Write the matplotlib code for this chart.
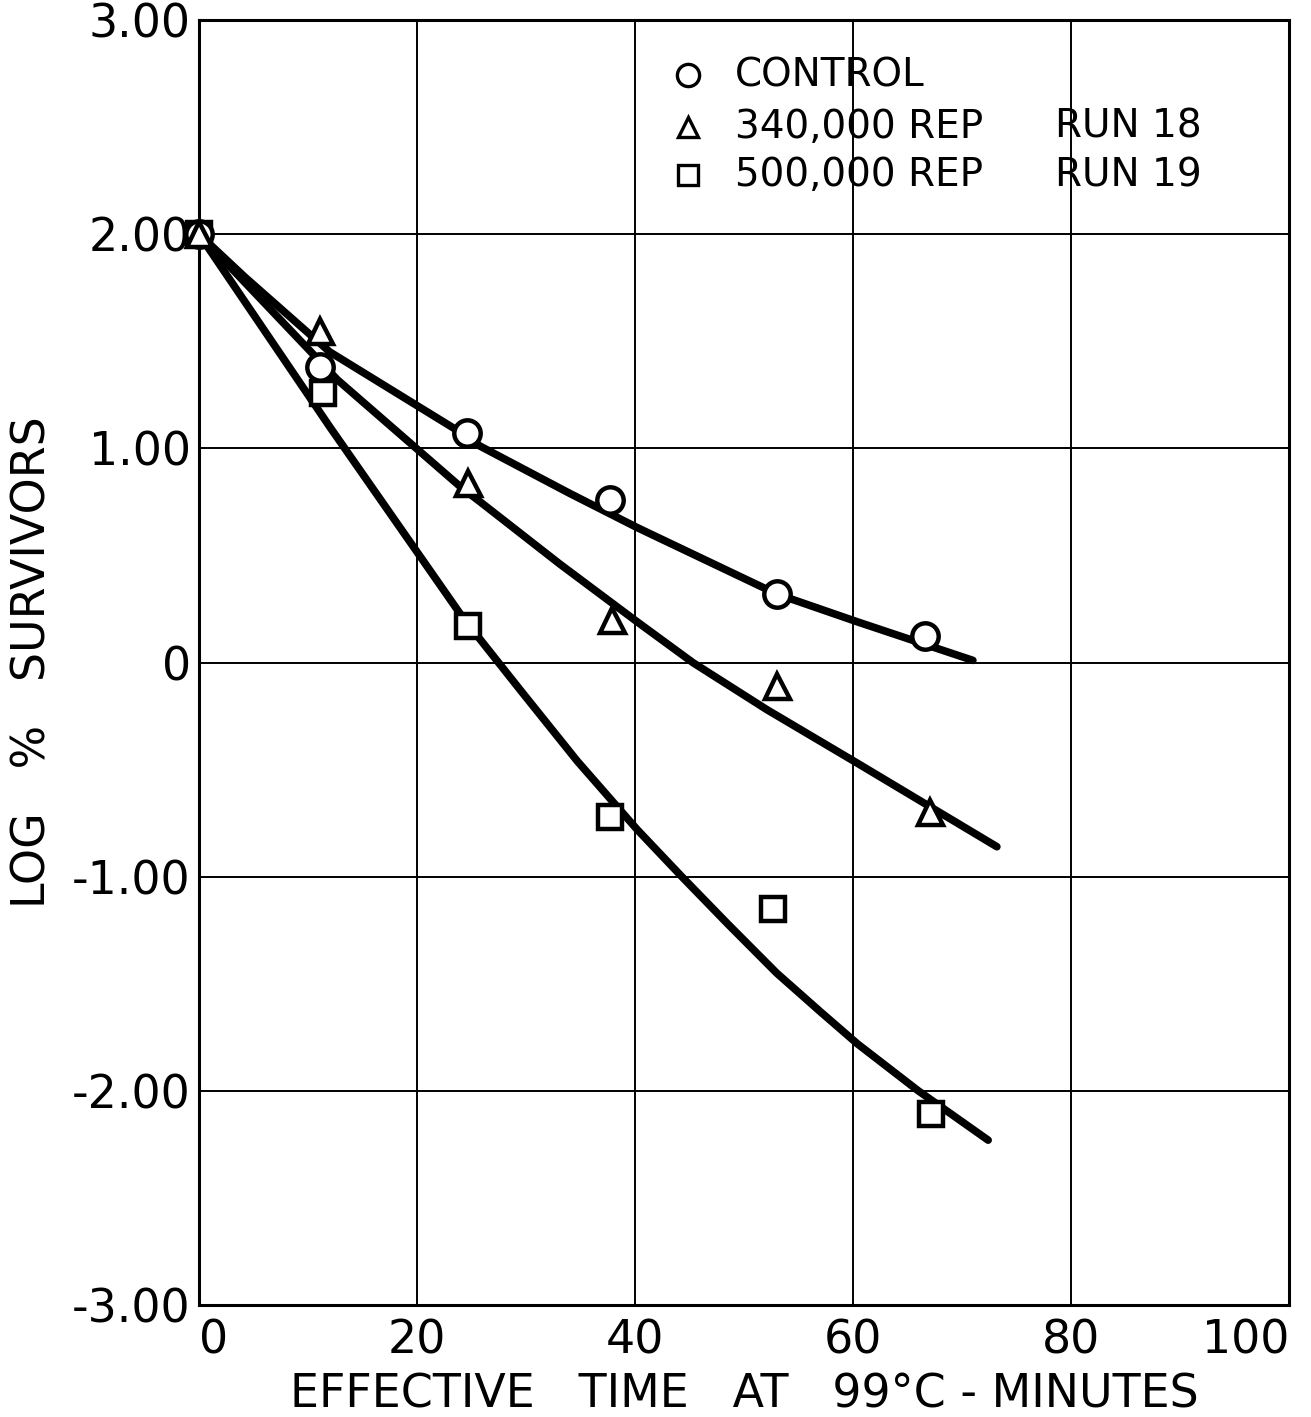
import matplotlib
matplotlib.use("Agg")
import matplotlib.pyplot as plt

# ---- data ----
# measured points
control_t = [0, 11.1, 24.6, 37.7, 53.0, 66.6]
control_y = [2.00, 1.38, 1.07, 0.76, 0.32, 0.125]

rep340_t = [0, 11.1, 24.7, 37.9, 53.0, 67.1]
rep340_y = [2.00, 1.55, 0.84, 0.20, -0.11, -0.70]

rep500_t = [0, 11.4, 24.7, 37.7, 52.7, 67.2]
rep500_y = [2.00, 1.26, 0.17, -0.72, -1.15, -2.11]

# hand-drawn fitted curves
control_curve_t = [0, 4.2, 12.0, 23.5, 25.8, 34.0, 40.2, 53.0, 60.4, 71.0]
control_curve_y = [2.00, 1.80, 1.45, 1.09, 1.01, 0.79, 0.63, 0.32, 0.19, 0.01]

rep340_curve_t = [0, 12.7, 24.0, 25.8, 33.1, 40.2, 45.3, 52.1, 60.4, 73.2]
rep340_curve_y = [2.00, 1.32, 0.82, 0.75, 0.46, 0.19, 0.00, -0.22, -0.47, -0.86]

rep500_curve_t = [0, 12.0, 24.2, 29.5, 34.7, 40.2, 44.3, 48.5, 53.0, 57.0, 60.4, 66.0, 72.4]
rep500_curve_y = [2.00, 1.10, 0.21, -0.13, -0.46, -0.78, -1.00, -1.22, -1.45, -1.63, -1.78, -2.00, -2.23]

x_ticks = [0, 20, 40, 60, 80, 100]
x_ticklabels = ["0", "20", "40", "60", "80", "100"]
y_ticks = [-3, -2, -1, 0, 1, 2, 3]
y_ticklabels = ["-3.00", "-2.00", "-1.00", "0", "1.00", "2.00", "3.00"]

legend_labels = ["CONTROL", "340,000 REP", "500,000 REP"]
legend_runs = ["", "RUN 18", "RUN 19"]

# ---- figure ----
plt.rcParams['font.family'] = ['DejaVu Sans']
fig = plt.figure(figsize=(13.11, 14.17), dpi=100)
ax = fig.add_axes([0.1518, 0.0790, 0.8314, 0.9069])

ax.set_xlim(0, 100)
ax.set_ylim(-3, 3)

lw = 5.5
for ct, cy in [(control_curve_t, control_curve_y),
               (rep340_curve_t, rep340_curve_y),
               (rep500_curve_t, rep500_curve_y)]:
    ax.plot(ct, cy, color='black', lw=lw, solid_capstyle='round',
            solid_joinstyle='round', zorder=3)

mk = dict(linestyle='none', markerfacecolor='white', markeredgecolor='black',
          markeredgewidth=3.2, zorder=5, clip_on=False)
ax.plot(rep500_t, rep500_y, marker='s', markersize=17, **mk)
ax.plot(control_t, control_y, marker='o', markersize=19, **mk)
ax.plot(rep340_t, rep340_y, marker='^', markersize=18, **mk)

ax.set_xticks(x_ticks)
ax.set_xticklabels(x_ticklabels)
ax.set_yticks(y_ticks)
ax.set_yticklabels(y_ticklabels)
ax.grid(True, color='black', lw=1.4)
ax.set_axisbelow(True)
ax.tick_params(length=0, labelsize=33, pad=6)
ax.tick_params(axis='x', pad=10)
xl = ax.get_xticklabels()
xl[0].set_horizontalalignment('left')
xl[-1].set_horizontalalignment('right')
for s in ax.spines.values():
    s.set_linewidth(2.2)

ax.set_xlabel("EFFECTIVE   TIME   AT   99°C - MINUTES", fontsize=33, labelpad=6)
ax.set_ylabel("LOG   %   SURVIVORS", fontsize=33, labelpad=12)

# legend drawn manually
leg_y = [0.957, 0.917, 0.879]
leg_m = ['o', '^', 's']
leg_ms = [16, 15, 15]
for yy, m, ms, lab, run in zip(leg_y, leg_m, leg_ms, legend_labels, legend_runs):
    ax.plot([0.4486], [yy], transform=ax.transAxes, marker=m, markersize=ms,
            markerfacecolor='white', markeredgecolor='black', markeredgewidth=2.4,
            linestyle='none', zorder=6)
    ax.text(0.4917, yy, lab, transform=ax.transAxes, fontsize=28,
            va='center', ha='left', zorder=6)
    if run:
        ax.text(0.785, yy, run, transform=ax.transAxes, fontsize=28,
                va='center', ha='left', zorder=6)

fig.savefig("out.png", dpi=100, facecolor='white')
